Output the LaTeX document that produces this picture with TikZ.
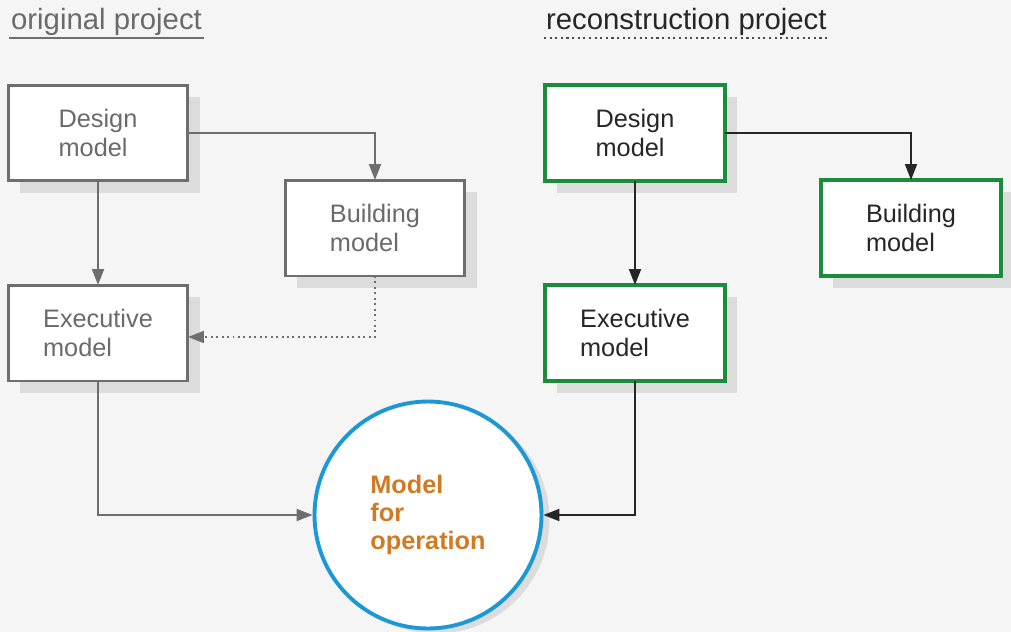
\documentclass[tikz,border=0pt]{standalone}
\usepackage{fontspec}
\setmainfont{Liberation Sans}
\usetikzlibrary{arrows.meta,shadows}
\definecolor{bgcol}{HTML}{F5F5F5}
\definecolor{oldcol}{HTML}{6E6E6E}
\definecolor{oldtext}{HTML}{6A6A6A}
\definecolor{newcol}{HTML}{1A8C3C}
\definecolor{opcol}{HTML}{1C98D4}
\definecolor{optext}{HTML}{D27A22}
\definecolor{shadecol}{HTML}{DCDCDC}

\tikzset{
  modelbox/.style={rectangle, minimum width=3.6cm, minimum height=1.92cm,
    fill=white, align=left, outer sep=0pt, font=\fontsize{14.4}{16}\selectfont,
    drop shadow={shadow xshift=0.24cm, shadow yshift=-0.24cm, fill=shadecol, opacity=1}},
  oldbox/.style={modelbox, draw=oldcol, line width=1.7pt, text=oldtext},
  newbox/.style={modelbox, draw=newcol, line width=2.2pt, text=black!85},
  oldflow/.style={draw=oldcol, line width=1.1pt, -{Triangle[length=0.32cm, width=0.24cm]}},
  newflow/.style={draw=black!85, line width=1.1pt, -{Triangle[length=0.32cm, width=0.24cm]}},
  heading/.style={inner sep=1pt, anchor=base west, font=\fontsize{16.7}{19}\selectfont}
}

\begin{document}
\begin{tikzpicture}[x=0.02cm, y=-0.02cm]
\fill[bgcol] (0,0) rectangle (1011,632);
\useasboundingbox (0,0) rectangle (1011,632);

% headings
\node[heading, text=oldtext] (oldhead) at (9,30) {original project};
\draw[oldcol, line width=1.2pt] (oldhead.south west) -- (oldhead.south east);
\node[heading, text=black!85] (newhead) at (544,30) {reconstruction project};
\draw[black!70, line width=1.2pt, dotted] (newhead.south west) -- (newhead.south east);

% original project
\node[oldbox] (olddesign) at (98,133) {Design\\model};
\node[oldbox] (oldbuild) at (375,228) {Building\\model};
\node[oldbox] (oldexec) at (98,333) {Executive\\model};

% reconstruction project
\node[newbox] (newdesign) at (635,133) {Design\\model};
\node[newbox] (newbuild) at (911,228) {Building\\model};
\node[newbox] (newexec) at (635,333) {Executive\\model};

% model for operation
\node[circle, draw=opcol, line width=2.2pt, fill=white, minimum size=4.54cm,
  align=left, text=optext, font=\fontsize{14.4}{16}\selectfont\bfseries,
  drop shadow={shadow xshift=0.16cm, shadow yshift=-0.1cm, fill=shadecol, opacity=1}]
  (operation) at (428,515) {Model\\for\\operation};

% connectors
\draw[oldflow] (olddesign.south) -- (oldexec.north);
\draw[oldflow] (olddesign.east) -| (oldbuild.north);
\draw[oldflow, dotted] (oldbuild.south) |- ([yshift=-0.08cm]oldexec.east);
\draw[oldflow] (oldexec.south) |- (operation.west);
\draw[newflow] (newdesign.south) -- (newexec.north);
\draw[newflow] (newdesign.east) -| (newbuild.north);
\draw[newflow] (newexec.south) |- (operation.east);
\end{tikzpicture}
\end{document}
